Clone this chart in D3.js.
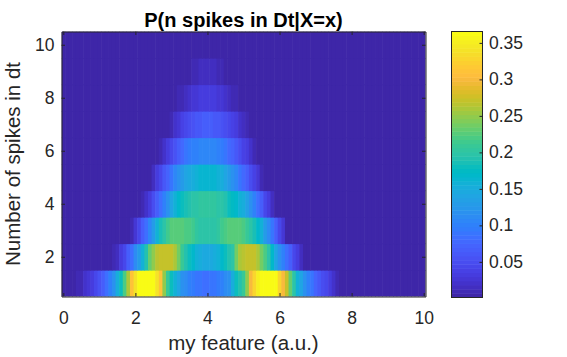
<!DOCTYPE html>
<html><head><meta charset="utf-8">
<script src="https://cdn.jsdelivr.net/npm/d3@7"></script>
<style>
html,body{margin:0;padding:0;background:#fff;}
svg{display:block;font-family:"Liberation Sans",Arial,Helvetica,sans-serif;}
</style>
</head><body>
<svg id="chart" width="567" height="357"></svg>
<script>
// ---------------- data ----------------
const spikeCounts = [1,2,3,4,5,6,7,8,9,10];
const featureX = d3.range(0, 101).map(i => i / 10);   // 0, 0.1, ..., 10 (column centres)

const p1 = [0,0,0,0,.008,.012,.02,.027,.035,.045,.055,.068,.085,.10,.12,.15,.18,.22,.26,.31,
  .34,.36,.364,.3656,.364,.36,.34,.31,.25,.21,.18,.16,.14,.12,.11,.10,.095,.09,.088,.086,
  .086,.088,.09,.095,.10,.11,.12,.15,.18,.19,.21,.25,.30,.33,.35,.362,.365,.365,.363,.36,
  .33,.30,.27,.23,.20,.16,.14,.12,.10,.09,.075,.062,.05,.042,.032,.022,.012,0,0,0,
  0,0,0,0,0,0,0,0,0,0,0,0,0,0,0,0,0,0,0,0,0];
const p2 = [0,0,0,0,0,0,0,0,0,0,0,0,0,0,.008,.018,.03,.045,.065,.085,
  .11,.13,.16,.19,.23,.25,.265,.27,.272,.272,.27,.26,.24,.21,.19,.18,.17,.16,.15,.145,
  .145,.145,.15,.16,.17,.18,.19,.20,.24,.26,.265,.27,.272,.27,.26,.24,.22,.20,.17,.14,
  .12,.10,.085,.065,.045,.03,.015,0,0,0,0,0,0,0,0,0,0,0,0,0,
  0,0,0,0,0,0,0,0,0,0,0,0,0,0,0,0,0,0,0,0,0];
const p3 = [0,0,0,0,0,0,0,0,0,0,0,0,0,0,0,0,0,0,0,.012,
  .025,.045,.065,.085,.105,.13,.155,.185,.20,.215,.225,.228,.228,.225,.222,.22,.212,.205,.20,.198,
  .198,.198,.20,.205,.212,.22,.225,.228,.228,.225,.22,.21,.20,.185,.17,.155,.13,.11,.09,.065,
  .045,.025,0,0,0,0,0,0,0,0,0,0,0,0,0,0,0,0,0,0,
  0,0,0,0,0,0,0,0,0,0,0,0,0,0,0,0,0,0,0,0,0];
const p4 = [0,0,0,0,0,0,0,0,0,0,0,0,0,0,0,0,0,0,0,0,
  0,0,.012,.022,.035,.05,.065,.085,.10,.12,.14,.155,.168,.178,.186,.192,.196,.20,.202,.203,
  .203,.203,.202,.20,.196,.19,.182,.175,.168,.16,.15,.135,.12,.10,.085,.065,.045,.03,.015,0,
  0,0,0,0,0,0,0,0,0,0,0,0,0,0,0,0,0,0,0,0,
  0,0,0,0,0,0,0,0,0,0,0,0,0,0,0,0,0,0,0,0,0];
const p5 = [0,0,0,0,0,0,0,0,0,0,0,0,0,0,0,0,0,0,0,0,
  0,0,0,0,0,.015,.03,.045,.06,.075,.09,.105,.118,.13,.14,.146,.152,.157,.161,.164,
  .165,.164,.161,.157,.15,.142,.132,.12,.106,.092,.08,.065,.05,.036,.025,.012,0,0,0,0,
  0,0,0,0,0,0,0,0,0,0,0,0,0,0,0,0,0,0,0,0,
  0,0,0,0,0,0,0,0,0,0,0,0,0,0,0,0,0,0,0,0,0];
const p6 = [0,0,0,0,0,0,0,0,0,0,0,0,0,0,0,0,0,0,0,0,
  0,0,0,0,0,0,0,.012,.022,.034,.045,.056,.068,.078,.087,.093,.098,.102,.104,.105,
  .105,.105,.104,.10,.095,.089,.08,.07,.06,.05,.04,.03,.02,.01,0,0,0,0,0,0,
  0,0,0,0,0,0,0,0,0,0,0,0,0,0,0,0,0,0,0,0,
  0,0,0,0,0,0,0,0,0,0,0,0,0,0,0,0,0,0,0,0,0];
const p7 = [0,0,0,0,0,0,0,0,0,0,0,0,0,0,0,0,0,0,0,0,
  0,0,0,0,0,0,0,0,0,0,.012,.02,.028,.036,.044,.05,.055,.06,.063,.065,
  .066,.065,.063,.06,.055,.05,.044,.037,.03,.022,.015,.008,0,0,0,0,0,0,0,0,
  0,0,0,0,0,0,0,0,0,0,0,0,0,0,0,0,0,0,0,0,
  0,0,0,0,0,0,0,0,0,0,0,0,0,0,0,0,0,0,0,0,0];
const p8 = [0,0,0,0,0,0,0,0,0,0,0,0,0,0,0,0,0,0,0,0,
  0,0,0,0,0,0,0,0,0,0,0,0,.008,.012,.016,.021,.025,.029,.032,.034,
  .035,.034,.032,.029,.025,.021,.016,.012,.008,0,0,0,0,0,0,0,0,0,0,0,
  0,0,0,0,0,0,0,0,0,0,0,0,0,0,0,0,0,0,0,0,
  0,0,0,0,0,0,0,0,0,0,0,0,0,0,0,0,0,0,0,0,0];
const p9 = [0,0,0,0,0,0,0,0,0,0,0,0,0,0,0,0,0,0,0,0,
  0,0,0,0,0,0,0,0,0,0,0,0,0,0,0,.005,.008,.011,.014,.016,
  .017,.016,.014,.011,.008,.005,0,0,0,0,0,0,0,0,0,0,0,0,0,0,
  0,0,0,0,0,0,0,0,0,0,0,0,0,0,0,0,0,0,0,0,
  0,0,0,0,0,0,0,0,0,0,0,0,0,0,0,0,0,0,0,0,0];
const p10 = [0,0,0,0,0,0,0,0,0,0,0,0,0,0,0,0,0,0,0,0,
  0,0,0,0,0,0,0,0,0,0,0,0,0,0,0,0,0,0,0,0,
  0,0,0,0,0,0,0,0,0,0,0,0,0,0,0,0,0,0,0,0,
  0,0,0,0,0,0,0,0,0,0,0,0,0,0,0,0,0,0,0,0,
  0,0,0,0,0,0,0,0,0,0,0,0,0,0,0,0,0,0,0,0,0];
const probRows = [p1,p2,p3,p4,p5,p6,p7,p8,p9,p10];

const xTicks = [0,2,4,6,8,10];
const yTicks = [2,4,6,8,10];
const cbTicks = [0.05,0.1,0.15,0.2,0.25,0.3,0.35];
const cbTickLabels = ["0.05","0.1","0.15","0.2","0.25","0.3","0.35"];
const cLim = [0.0012, 0.3656];
const titleText = "P(n spikes in Dt|X=x)";
const xLabelText = "my feature (a.u.)";
const yLabelText = "Number of spikes in dt";

// MATLAB parula (64)
const parulaRGB = [
[0.2422,0.1504,0.6603],[0.2504,0.1650,0.7076],[0.2578,0.1818,0.7511],[0.2647,0.1978,0.7952],
[0.2706,0.2147,0.8364],[0.2751,0.2342,0.8710],[0.2783,0.2559,0.8991],[0.2803,0.2782,0.9221],
[0.2813,0.3006,0.9414],[0.2810,0.3228,0.9579],[0.2795,0.3447,0.9717],[0.2760,0.3667,0.9829],
[0.2699,0.3892,0.9906],[0.2602,0.4123,0.9952],[0.2440,0.4358,0.9988],[0.2206,0.4603,0.9973],
[0.1963,0.4847,0.9892],[0.1834,0.5074,0.9798],[0.1786,0.5289,0.9682],[0.1764,0.5499,0.9520],
[0.1687,0.5703,0.9359],[0.1540,0.5902,0.9218],[0.1460,0.6091,0.9079],[0.1380,0.6276,0.8973],
[0.1248,0.6459,0.8883],[0.1113,0.6635,0.8763],[0.0952,0.6798,0.8598],[0.0689,0.6948,0.8394],
[0.0297,0.7082,0.8163],[0.0036,0.7203,0.7917],[0.0067,0.7312,0.7660],[0.0433,0.7411,0.7394],
[0.0964,0.7500,0.7120],[0.1408,0.7584,0.6842],[0.1717,0.7670,0.6554],[0.1938,0.7758,0.6251],
[0.2161,0.7843,0.5923],[0.2470,0.7918,0.5567],[0.2906,0.7973,0.5188],[0.3406,0.8008,0.4789],
[0.3909,0.8029,0.4354],[0.4456,0.8024,0.3909],[0.5044,0.7993,0.3480],[0.5616,0.7942,0.3045],
[0.6174,0.7876,0.2612],[0.6720,0.7793,0.2227],[0.7242,0.7698,0.1910],[0.7738,0.7598,0.1646],
[0.8203,0.7498,0.1535],[0.8634,0.7406,0.1596],[0.9035,0.7330,0.1774],[0.9393,0.7288,0.2100],
[0.9728,0.7298,0.2394],[0.9956,0.7434,0.2371],[0.9970,0.7659,0.2199],[0.9952,0.7893,0.2028],
[0.9892,0.8136,0.1885],[0.9786,0.8386,0.1766],[0.9676,0.8639,0.1643],[0.9610,0.8890,0.1537],
[0.9597,0.9135,0.1423],[0.9628,0.9373,0.1265],[0.9691,0.9606,0.1064],[0.9769,0.9839,0.0805]];
const parula = parulaRGB.map(c => d3.rgb(c[0]*255, c[1]*255, c[2]*255).formatHex());

// ---------------- drawing ----------------
const svg = d3.select("#chart");
const ink = "#262626";
const plotL = 61.5, plotR = 425.5, plotT = 31.5, plotB = 296.5;

const x = d3.scaleLinear().domain([-0.05, 10.05]).range([plotL, plotR]);
const y = d3.scaleLinear().domain([0.5, 10.5]).range([plotB, plotT]);
const color = d3.scaleQuantize().domain(cLim).range(parula);

svg.append("defs").append("clipPath").attr("id","plotclip")
  .append("rect").attr("x", plotL).attr("y", plotT)
  .attr("width", plotR - plotL).attr("height", plotB - plotT);

const cells = [];
spikeCounts.forEach((n, r) => {
  featureX.forEach((fx, i) => cells.push({n, fx, v: probRows[r][i]}));
});

const colW = x(0.1) - x(0);
svg.append("g").attr("clip-path","url(#plotclip)")
  .selectAll("rect").data(cells).join("rect")
  .attr("x", d => x(d.fx - 0.05))
  .attr("y", d => y(d.n + 0.5))
  .attr("width", colW + 0.6)
  .attr("height", d => y(d.n - 0.5) - y(d.n + 0.5) + 0.6)
  .attr("fill", d => color(d.v));

function styleAxis(g) {
  g.selectAll(".domain").attr("stroke", ink).attr("stroke-width", 1);
  g.selectAll(".tick line").attr("stroke", ink).attr("stroke-width", 1);
  g.selectAll(".tick text").attr("fill", ink).style("font-size", "17.5px")
    .style("font-family", '"Liberation Sans",Arial,sans-serif');
}

const tickLen = 3.5;
svg.append("g").attr("transform", `translate(0,${plotB})`)
  .call(d3.axisBottom(x).tickValues(xTicks).tickSizeInner(-tickLen).tickSizeOuter(0).tickPadding(15).tickFormat(d3.format("d")))
  .call(styleAxis);
svg.append("g").attr("transform", `translate(0,${plotT})`)
  .call(d3.axisTop(x).tickValues(xTicks).tickSizeInner(-tickLen).tickSizeOuter(0).tickFormat(""))
  .call(styleAxis);
svg.append("g").attr("transform", `translate(${plotL},0)`)
  .call(d3.axisLeft(y).tickValues(yTicks).tickSizeInner(-tickLen).tickSizeOuter(0).tickPadding(7).tickFormat(d3.format("d")))
  .call(styleAxis);
svg.append("g").attr("transform", `translate(${plotR},0)`)
  .call(d3.axisRight(y).tickValues(yTicks).tickSizeInner(-tickLen).tickSizeOuter(0).tickFormat(""))
  .call(styleAxis);
svg.selectAll(".domain").attr("fill","none");

// title & labels
svg.append("text").attr("x", (plotL + plotR) / 2).attr("y", 26.5)
  .attr("text-anchor","middle").attr("fill","#000")
  .style("font-size","20px").style("font-weight","bold").text(titleText);
svg.append("text").attr("x", (plotL + plotR) / 2).attr("y", 350)
  .attr("text-anchor","middle").attr("fill", ink)
  .style("font-size","20.5px").text(xLabelText);
svg.append("text").attr("transform", `translate(20,${(plotT + plotB) / 2}) rotate(-90)`)
  .attr("text-anchor","middle").attr("fill", ink)
  .style("font-size","20.5px").text(yLabelText);

// colorbar
const cbL = 451.5, cbR = 482.5, cbT = 31.5, cbB = 297.5;
const cb = d3.scaleLinear().domain(cLim).range([cbB, cbT]);
const step = (cLim[1] - cLim[0]) / parula.length;
svg.append("g").selectAll("rect").data(parula).join("rect")
  .attr("x", cbL).attr("width", cbR - cbL)
  .attr("y", (c, i) => cb(cLim[0] + (i + 1) * step))
  .attr("height", (c, i) => cb(cLim[0] + i * step) - cb(cLim[0] + (i + 1) * step) + 0.5)
  .attr("fill", c => c);
svg.append("rect").attr("x", cbL).attr("y", cbT).attr("width", cbR - cbL).attr("height", cbB - cbT)
  .attr("fill","none").attr("stroke", ink).attr("stroke-width", 1);
svg.append("g").attr("transform", `translate(${cbR},0)`)
  .call(d3.axisRight(cb).tickValues(cbTicks).tickSizeInner(-3).tickSizeOuter(0).tickPadding(6.5)
    .tickFormat((d, i) => cbTickLabels[i]))
  .call(styleAxis)
  .call(g => g.select(".domain").remove());
</script>
</body></html>
